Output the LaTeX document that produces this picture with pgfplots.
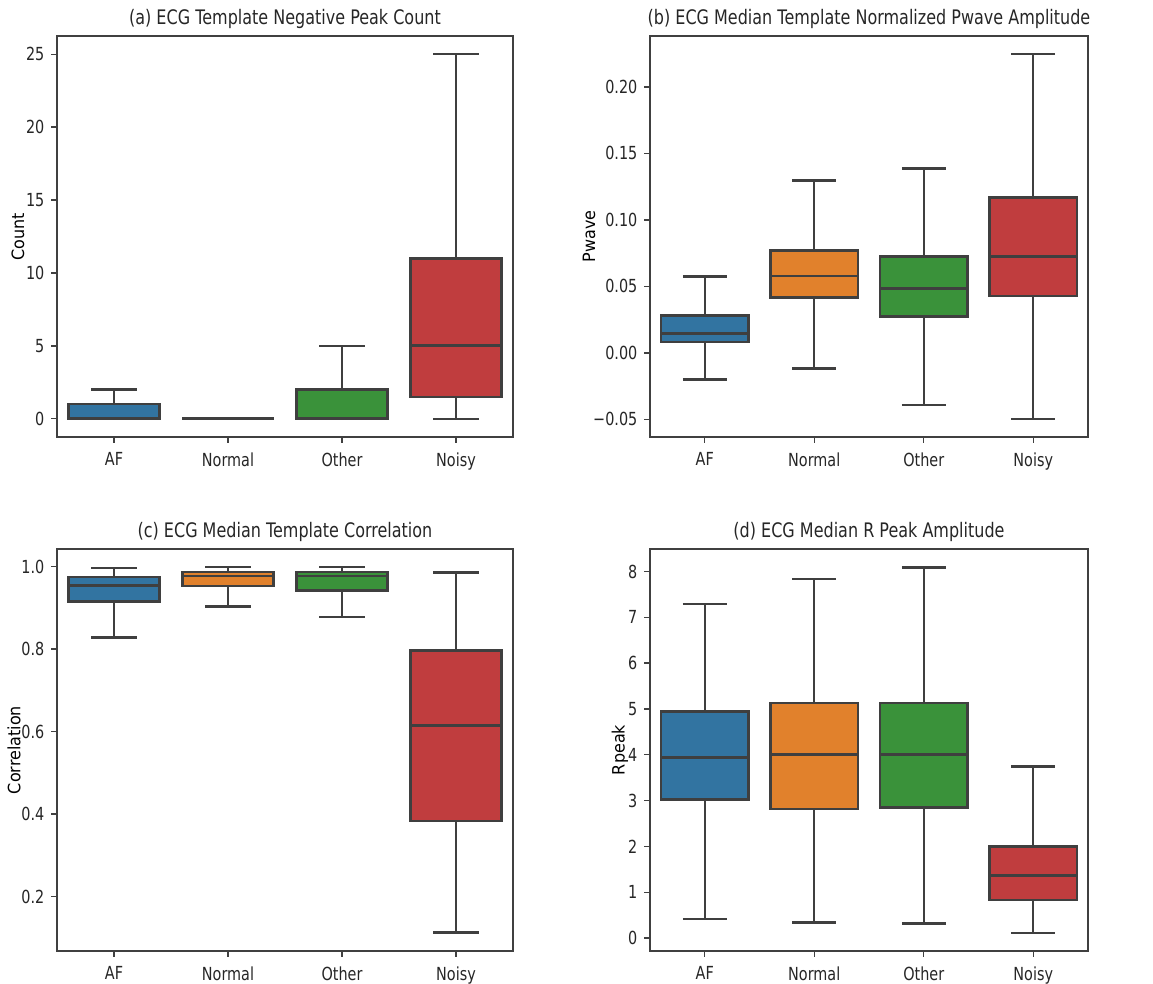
\documentclass[border=0pt]{standalone}
\usepackage{fontspec}
\setmainfont{DejaVu Sans}[FakeStretch=0.8]
\newfontfamily\ylabfont{DejaVu Sans}[FakeStretch=1.0]
\usepackage{graphicx}
\usepackage{pgfplots}
\pgfplotsset{compat=1.18}
\usepgfplotslibrary{statistics}

\definecolor{cA}{RGB}{50,116,161}
\definecolor{cN}{RGB}{225,129,44}
\definecolor{cO}{RGB}{58,146,58}
\definecolor{cX}{RGB}{192,61,62}
\definecolor{edge}{RGB}{63,63,63}

\newcommand{\yl}[1]{\scalebox{1}[0.85]{#1}}

\pgfplotsset{
  ecg/.style={
    scale only axis,
    xmin=-0.5, xmax=3.5,
    xtick={0,1,2,3}, xticklabels={AF,Normal,Other,Noisy},
    tick align=outside, xtick pos=bottom, ytick pos=left,
    major tick length=2.8pt,
    axis line style={black!75, line width=0.7pt},
    every tick/.style={black!75, line width=0.7pt},
    tick label style={font=\fontsize{9}{10}\selectfont, text=black!85},
    xticklabel style={yshift=-1.5pt},
    /pgf/number format/assume math mode=true,
    ylabel style={font=\ylabfont\fontsize{9}{10}\selectfont, text=black!85},
    every axis title/.style={font=\fontsize{10}{12}\selectfont, text=black!85,
      at={(0.5,1)}, anchor=base, yshift=5.5pt},
    boxplot/draw direction=y,
    boxplot/box extend=0.8, boxplot/whisker extend=0.4,
    boxplot/every median/.style={line width=1.45pt, draw=edge},
    boxplot/every box/.style={line width=1.2pt, draw=edge},
    boxplot/every whisker/.style={line width=1.2pt, draw=edge},
    every axis plot/.append style={line width=1.2pt, draw=edge},
  },
  ylabat/.style={every axis y label/.style={at={(axis description cs:#1,0.5)}, rotate=90, anchor=center}},
}

\begin{document}
\begin{tikzpicture}
\path[use as bounding box] (0,0) rectangle (576.5pt,-492pt);

% (a)
\begin{axis}[ecg, ylabat=-0.0855, at={(28.5pt,-18pt)}, anchor=north west,
  width=228pt, height=200.5pt,
  ymin=-1.25, ymax=26.25, ytick={0,5,10,15,20,25},
  yticklabels={0,5,10,15,20,25},
  ylabel={\yl{Count}}, title={(a) ECG Template Negative Peak Count}]
\addplot[fill=cA, boxplot prepared={draw position=0, lower whisker=0, lower quartile=0, median=0, upper quartile=1, upper whisker=2}] coordinates {};
\addplot[fill=cN, boxplot prepared={draw position=1, lower whisker=0, lower quartile=0, median=0, upper quartile=0, upper whisker=0}] coordinates {};
\addplot[fill=cO, boxplot prepared={draw position=2, lower whisker=0, lower quartile=0, median=0, upper quartile=2, upper whisker=5}] coordinates {};
\addplot[fill=cX, boxplot prepared={draw position=3, lower whisker=0, lower quartile=1.5, median=5, upper quartile=11, upper whisker=25}] coordinates {};
\end{axis}

% (b)
\begin{axis}[ecg, ylabat=-0.139, at={(325pt,-18pt)}, anchor=north west,
  width=219pt, height=200.5pt,
  ymin=-0.0632, ymax=0.2382, ytick={-0.05,0,0.05,0.1,0.15,0.2},
  yticklabels={−0.05,0.00,0.05,0.10,0.15,0.20},
  ylabel={\yl{Pwave}}, title={(b) ECG Median Template Normalized Pwave Amplitude}]
\addplot[fill=cA, boxplot prepared={draw position=0, lower whisker=-0.020, lower quartile=0.008, median=0.0148, upper quartile=0.028, upper whisker=0.0575}] coordinates {};
\addplot[fill=cN, boxplot prepared={draw position=1, lower whisker=-0.0118, lower quartile=0.0415, median=0.0578, upper quartile=0.077, upper whisker=0.1295}] coordinates {};
\addplot[fill=cO, boxplot prepared={draw position=2, lower whisker=-0.039, lower quartile=0.0275, median=0.0485, upper quartile=0.0725, upper whisker=0.1385}] coordinates {};
\addplot[fill=cX, boxplot prepared={draw position=3, lower whisker=-0.0495, lower quartile=0.0428, median=0.0723, upper quartile=0.1168, upper whisker=0.2245}] coordinates {};
\end{axis}

% (c)
\begin{axis}[ecg, ylabat=-0.0943, at={(28.5pt,-274.5pt)}, anchor=north west,
  width=228pt, height=201pt,
  ymin=0.0685, ymax=1.0423, ytick={0.2,0.4,0.6,0.8,1.0},
  yticklabels={0.2,0.4,0.6,0.8,1.0},
  ylabel={\yl{Correlation}}, title={(c) ECG Median Template Correlation}]
\addplot[fill=cA, boxplot prepared={draw position=0, lower whisker=0.828, lower quartile=0.915, median=0.954, upper quartile=0.975, upper whisker=0.996}] coordinates {};
\addplot[fill=cN, boxplot prepared={draw position=1, lower whisker=0.903, lower quartile=0.952, median=0.977, upper quartile=0.986, upper whisker=0.998}] coordinates {};
\addplot[fill=cO, boxplot prepared={draw position=2, lower whisker=0.878, lower quartile=0.942, median=0.977, upper quartile=0.986, upper whisker=0.998}] coordinates {};
\addplot[fill=cX, boxplot prepared={draw position=3, lower whisker=0.113, lower quartile=0.384, median=0.615, upper quartile=0.796, upper whisker=0.985}] coordinates {};
\end{axis}

% (d)
\begin{axis}[ecg, ylabat=-0.0685, at={(325pt,-274.5pt)}, anchor=north west,
  width=219pt, height=201pt,
  ymin=-0.283, ymax=8.49, ytick={0,1,2,3,4,5,6,7,8},
  yticklabels={0,1,2,3,4,5,6,7,8},
  ylabel={\yl{Rpeak}}, title={(d) ECG Median R Peak Amplitude}]
\addplot[fill=cA, boxplot prepared={draw position=0, lower whisker=0.41, lower quartile=3.02, median=3.94, upper quartile=4.94, upper whisker=7.29}] coordinates {};
\addplot[fill=cN, boxplot prepared={draw position=1, lower whisker=0.335, lower quartile=2.81, median=4.00, upper quartile=5.13, upper whisker=7.83}] coordinates {};
\addplot[fill=cO, boxplot prepared={draw position=2, lower whisker=0.32, lower quartile=2.85, median=4.00, upper quartile=5.13, upper whisker=8.09}] coordinates {};
\addplot[fill=cX, boxplot prepared={draw position=3, lower whisker=0.116, lower quartile=0.83, median=1.36, upper quartile=2.00, upper whisker=3.74}] coordinates {};
\end{axis}
\end{tikzpicture}
\end{document}
